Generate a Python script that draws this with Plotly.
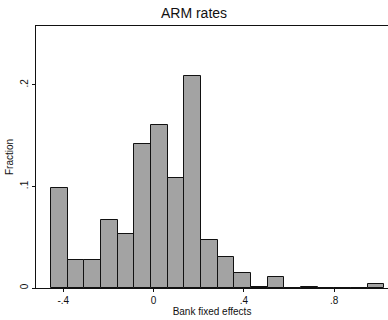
import plotly.graph_objects as go

# Histogram of bank fixed effects (Stata-style), fraction per bin
bin_start = -0.4545
bin_width = 0.0738
fractions = [0.0985, 0.0273, 0.0279, 0.0673, 0.0532, 0.1422, 0.1610, 0.1087,
             0.2086, 0.0473, 0.0309, 0.0145, 0.0013, 0.0108, 0.0, 0.0010,
             0.0, 0.0, 0.0, 0.0036]
x_ticks = [-0.4, 0, 0.4, 0.8]
x_tick_labels = ["-.4", "0", ".4", ".8"]
y_ticks = [0, 0.1, 0.2]
y_tick_labels = ["0", ".1", ".2"]

centers = [bin_start + bin_width * (i + 0.5) for i in range(len(fractions))]

fig = go.Figure(go.Bar(
    x=centers, y=fractions, width=[bin_width] * len(fractions),
    marker=dict(color="#a3a3a3", line=dict(color="#111111", width=1)),
))

font = "Liberation Sans, Arial, sans-serif"
fig.update_layout(
    width=388, height=320,
    margin=dict(l=36, r=0, t=26, b=32),
    paper_bgcolor="white", plot_bgcolor="white",
    showlegend=False, bargap=0,
    font=dict(family=font, color="#111111", size=10),
    title=dict(text="ARM rates", x=0.5, xanchor="center", y=0.958, yanchor="middle",
               font=dict(size=14, color="#111111", family=font)),
    xaxis=dict(range=[-0.521, 1.038], tickvals=x_ticks, ticktext=x_tick_labels,
               showline=True, linecolor="#111111", linewidth=1.3, mirror=True,
               ticks="outside", ticklen=3, tickcolor="#111111", tickwidth=1,
               showgrid=False, zeroline=False,
               tickfont=dict(size=10),
               title=dict(text="Bank fixed effects", font=dict(size=10), standoff=0)),
    yaxis=dict(range=[0, 0.258], tickvals=y_ticks, ticktext=y_tick_labels,
               showline=True, linecolor="#111111", linewidth=1.3,
               ticks="outside", ticklen=3, tickcolor="#111111", tickwidth=1,
               tickangle=-90, showgrid=False, zeroline=False,
               tickfont=dict(size=10),
               title=dict(text="Fraction", font=dict(size=10), standoff=3)),
)

fig.write_html("out.html", config={"displayModeBar": False},
               post_script="document.body.style.margin='0';document.body.style.overflow='hidden';")
